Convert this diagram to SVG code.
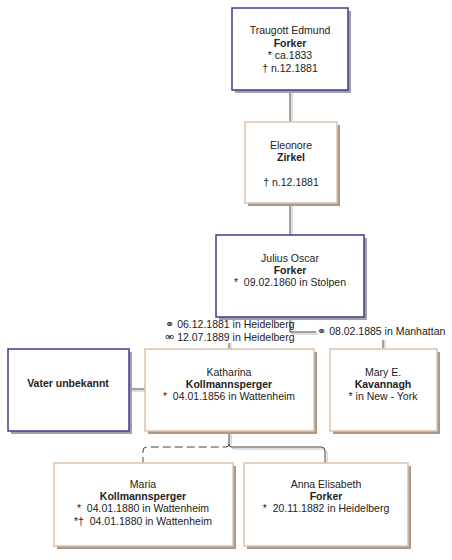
<svg xmlns="http://www.w3.org/2000/svg" width="452" height="560" viewBox="0 0 452 560">
<style>
text{font-family:"Liberation Sans",Arial,sans-serif;font-size:10.5px;fill:#222;text-anchor:middle}
.b{font-weight:bold}
.sh{fill:#a0a0a8}
.shb{fill:#ad9888}
.m{fill:#fff;stroke:#3d3d8f;stroke-width:1.5}
.f{fill:#fff;stroke:#dcc2ad;stroke-width:1.5}
.ln{fill:none;stroke:#444;stroke-width:1}
.lg{fill:none;stroke:#bbb;stroke-width:1}
.lab{text-anchor:start}
.sym{font-family:"DejaVu Sans",sans-serif;font-size:11px;fill:#333}
</style>
<rect width="452" height="560" fill="#fff"/>
<g id="connectors">
<path class="lg" d="M292,90V122 M292,203V235 M292,317V334H318 M385,340V348 M231,343V349 M129,391H145 M231,431V445"/>
<path class="ln" d="M290,90V122 M290,203V235 M290,317V332H316 M383,340V348 M229,343V349 M129,389H145 M229,431V444"/>
<path class="ln" d="M229,444Q229,447 226,447H147Q143,447 143,451V463" stroke-dasharray="8,4"/>
<path class="lg" d="M231,446Q231,449 234,449H321Q327,449 327,453V463"/>
<path class="ln" d="M229,444Q229,447 232,447H321Q325,447 325,451V463"/>
<text class="lab" x="165" y="328"><tspan class="sym">⚭</tspan> 06.12.1881 in Heidelberg</text>
<text class="lab" x="165" y="341"><tspan class="sym">⚮</tspan> 12.07.1889 in Heidelberg</text>
<text class="lab" x="317" y="335"><tspan class="sym">⚭</tspan> 08.02.1885 in Manhattan</text>
</g>
<g id="n-traugott">
<rect class="sh" x="235" y="11" width="116" height="82"/>
<rect class="m" x="232" y="8" width="116" height="82"/>
<text x="290" y="34">Traugott Edmund</text>
<text class="b" x="290" y="47">Forker</text>
<text x="290" y="59">* ca.1833</text>
<text x="290" y="72">† n.12.1881</text>
</g>
<g id="n-eleonore">
<rect class="shb" x="248" y="125" width="92" height="81"/>
<rect class="f" x="245" y="122" width="92" height="81"/>
<text x="291" y="149">Eleonore</text>
<text class="b" x="291" y="161">Zirkel</text>
<text x="291" y="186">† n.12.1881</text>
</g>
<g id="n-julius">
<rect class="sh" x="219" y="238" width="148" height="82"/>
<rect class="m" x="216" y="235" width="148" height="82"/>
<text x="290" y="262">Julius Oscar</text>
<text class="b" x="290" y="274">Forker</text>
<text x="290" y="286" xml:space="preserve">*  09.02.1860 in Stolpen</text>
</g>
<g id="n-vater">
<rect class="sh" x="11" y="352" width="121" height="82"/>
<rect class="m" x="8" y="349" width="121" height="82"/>
<text class="b" x="68" y="387">Vater unbekannt</text>
</g>
<g id="n-katharina">
<rect class="shb" x="148" y="352" width="169" height="82"/>
<rect class="f" x="145" y="349" width="169" height="82"/>
<text x="229" y="376">Katharina</text>
<text class="b" x="229" y="388">Kollmannsperger</text>
<text x="229" y="400" xml:space="preserve">*  04.01.1856 in Wattenheim</text>
</g>
<g id="n-mary">
<rect class="shb" x="333" y="352" width="107" height="82"/>
<rect class="f" x="330" y="349" width="107" height="82"/>
<text x="383" y="376">Mary E.</text>
<text class="b" x="383" y="388">Kavannagh</text>
<text x="383" y="400">* in New - York</text>
</g>
<g id="n-maria">
<rect class="shb" x="57" y="466" width="179" height="83"/>
<rect class="f" x="54" y="463" width="179" height="83"/>
<text x="143" y="488">Maria</text>
<text class="b" x="143" y="500">Kollmannsperger</text>
<text x="143" y="512" xml:space="preserve">*  04.01.1880 in Wattenheim</text>
<text x="143" y="525" xml:space="preserve">*†  04.01.1880 in Wattenheim</text>
</g>
<g id="n-anna">
<rect class="shb" x="247" y="466" width="164" height="83"/>
<rect class="f" x="244" y="463" width="164" height="83"/>
<text x="326" y="488">Anna Elisabeth</text>
<text class="b" x="326" y="500">Forker</text>
<text x="326" y="512" xml:space="preserve">*  20.11.1882 in Heidelberg</text>
</g>
</svg>
